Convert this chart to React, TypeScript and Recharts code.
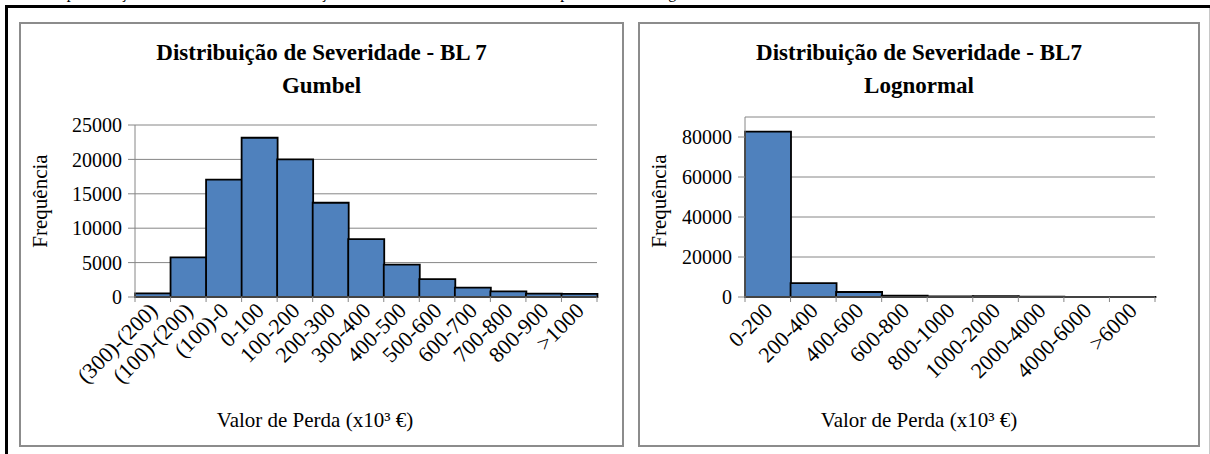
import React from 'react';
import { BarChart, Bar, XAxis, YAxis, CartesianGrid } from 'recharts';

const gumbelBins = [
  '(300)-(200)', '(100)-(200)', '(100)-0', '0-100', '100-200', '200-300', '300-400',
  '400-500', '500-600', '600-700', '700-800', '800-900', '>1000',
];
const gumbelFreq = [530, 5750, 17050, 23150, 20000, 13700, 8400, 4700, 2600, 1350, 820, 490, 440];
const gumbelTicks = [0, 5000, 10000, 15000, 20000, 25000];

const lognormalBins = [
  '0-200', '200-400', '400-600', '600-800', '800-1000', '1000-2000', '2000-4000', '4000-6000', '>6000',
];
const lognormalFreq = [82700, 6900, 2500, 700, 350, 400, 150, 60, 100];
const lognormalTicks = [0, 20000, 40000, 60000, 80000];

const SERIF = "'Liberation Serif', 'Times New Roman', serif";
const GRID = '#868686';
const BAR_FILL = '#4F81BD';
const FONT = 21;

const gumbelData = gumbelBins.map((bin, i) => ({ bin, freq: gumbelFreq[i] }));
const lognormalData = lognormalBins.map((bin, i) => ({ bin, freq: lognormalFreq[i] }));

// x tick: label rotated 45deg, tick marks on the category boundaries
function makeXTick(band: number, count: number) {
  return (props: any) => {
    const { x, y, payload, index } = props;
    const tx = x + 6;
    const ty = y + 15;
    return (
      <g>
        <line x1={x - band / 2} x2={x - band / 2} y1={y} y2={y + 5} stroke={GRID} />
        {index === count - 1 && (
          <line x1={x + band / 2} x2={x + band / 2} y1={y} y2={y + 5} stroke={GRID} />
        )}
        <text
          x={tx}
          y={ty}
          textAnchor="end"
          transform={`rotate(-45 ${tx} ${ty})`}
          fontSize={22}
          fontFamily={SERIF}
          fill="#000"
        >
          {payload.value}
        </text>
      </g>
    );
  };
}

function yTitle(cx: number, cy: number) {
  return () => (
    <text
      x={cx}
      y={cy}
      transform={`rotate(-90 ${cx} ${cy})`}
      textAnchor="middle"
      dominantBaseline="central"
      fontSize={FONT}
      fontFamily={SERIF}
      fill="#000"
    >
      Frequência
    </text>
  );
}

function xTitle(cx: number, y: number) {
  return () => (
    <text x={cx} y={y} textAnchor="middle" fontSize={FONT} fontFamily={SERIF} fill="#000">
      Valor de Perda (x10³ €)
    </text>
  );
}

interface PanelProps {
  left: number;
  width: number;
  title: string[];
  data: { bin: string; freq: number }[];
  ticks: number[];
  yMax: number;
  yAxisWidth: number;
  marginTop: number;
  marginRight: number;
  yTitleX: number;
  xTitleX: number;
}

function Panel(p: PanelProps) {
  const top = 22;
  const height = 425;
  const plotWidth = p.width - p.yAxisWidth - p.marginRight;
  const band = plotWidth / p.data.length;
  return (
    <div style={{ position: 'absolute', left: p.left, top, width: p.width, height }}>
      <div
        style={{
          position: 'absolute',
          left: 0,
          top: 14,
          width: p.width,
          textAlign: 'center',
          fontFamily: SERIF,
          fontWeight: 'bold',
          fontSize: 23,
          lineHeight: '33px',
        }}
      >
        {p.title.map((t) => (
          <div key={t}>{t}</div>
        ))}
      </div>
      <div style={{ position: 'absolute', left: 0, top: 0 }}>
        <BarChart
          width={p.width}
          height={height}
          data={p.data}
          margin={{ top: p.marginTop, right: p.marginRight, bottom: 0, left: 0 }}
          barCategoryGap={0}
        >
          <CartesianGrid vertical={false} stroke={GRID} />
          <XAxis
            dataKey="bin"
            interval={0}
            height={150}
            tickSize={0}
            tickMargin={0}
            tickLine={false}
            axisLine={{ stroke: GRID }}
            tick={makeXTick(band, p.data.length)}
            label={xTitle(p.xTitleX, 405)}
          />
          <YAxis
            width={p.yAxisWidth}
            domain={[0, p.yMax]}
            ticks={p.ticks}
            interval={0}
            tickSize={7}
            tickMargin={6}
            tickLine={{ stroke: GRID }}
            axisLine={{ stroke: GRID }}
            tick={{ fontSize: 20, fontFamily: SERIF, fill: '#000' }}
            label={yTitle(p.yTitleX, 179)}
          />
          <Bar dataKey="freq" fill={BAR_FILL} stroke="#000" strokeWidth={1.8} isAnimationActive={false} />
        </BarChart>
      </div>
      <div
        style={{
          position: 'absolute',
          left: 0,
          top: 0,
          width: p.width,
          height,
          boxSizing: 'border-box',
          border: '2px solid #8c8c8c',
          pointerEvents: 'none',
        }}
      />
    </div>
  );
}

export default function App() {
  return (
    <div
      style={{
        position: 'absolute',
        left: 0,
        top: 0,
        width: 1210,
        height: 454,
        overflow: 'hidden',
        background: '#fff',
        fontFamily: SERIF,
      }}
    >
      <div
        style={{
          position: 'absolute',
          left: 49,
          top: -15,
          fontSize: 16,
          lineHeight: '16px',
          whiteSpace: 'nowrap',
        }}
      >
        Representação dos resultados das distribuições de severidade da BL 7 obtidas a partir das leis Lognormal e Gumbel
      </div>
      <div
        style={{
          position: 'absolute',
          left: 5,
          top: 5,
          width: 1300,
          height: 600,
          borderTop: '3px solid #000',
          borderLeft: '3px solid #000',
        }}
      />
      <div style={{ position: 'absolute', left: 1209, top: 8, width: 1, height: 446, background: '#c8c8c8' }} />
      <Panel
        left={19}
        width={605}
        title={['Distribuição de Severidade - BL 7', 'Gumbel']}
        data={gumbelData}
        ticks={gumbelTicks}
        yMax={25000}
        yAxisWidth={116}
        marginTop={103}
        marginRight={27}
        yTitleX={21}
        xTitleX={296}
      />
      <Panel
        left={638}
        width={562}
        title={['Distribuição de Severidade - BL7', 'Lognormal']}
        data={lognormalData}
        ticks={lognormalTicks}
        yMax={90000}
        yAxisWidth={107}
        marginTop={95}
        marginRight={45}
        yTitleX={21}
        xTitleX={281}
      />
    </div>
  );
}
